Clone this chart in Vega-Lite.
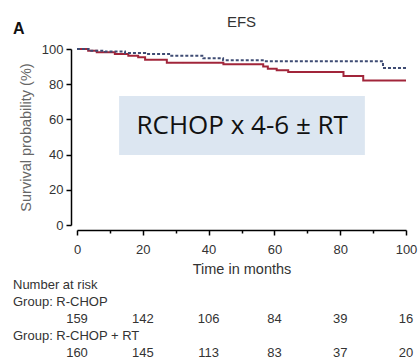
{
  "$schema": "https://vega.github.io/schema/vega-lite/v6.json",
  "background": "white",
  "autosize": {"type": "pad"},
  "padding": {"left": 13, "top": 15, "right": 5, "bottom": 0},
  "config": {"view": {"stroke": null}, "font": "Liberation Sans"},
  "title": {"text": "A", "anchor": "start", "frame": "bounds", "fontSize": 16, "fontWeight": "bold", "color": "#111", "dy": 22, "offset": 0},
  "spacing": 0,
  "vconcat": [
    {
      "width": 329,
      "height": 176,
      "title": {"text": "EFS", "fontSize": 15, "fontWeight": "normal", "color": "#333", "offset": 13},
      "encoding": {
        "x": {
          "field": "t", "type": "quantitative",
          "scale": {"domain": [0, 100], "nice": false},
          "axis": {
            "values": [0, 10, 20, 30, 40, 50, 60, 70, 80, 90, 100],
            "labelExpr": "datum.value % 20 === 0 ? datum.label : ''",
            "tickSize": {"condition": {"test": "datum.value % 20 !== 0", "value": 3}, "value": 5},
            "offset": 5, "domainColor": "#000", "domainWidth": 1.5, "tickColor": "#000", "tickWidth": 1.5,
            "grid": false, "labelFontSize": 13, "labelColor": "#333", "labelPadding": 8, "labelFlush": false,
            "title": "Time in months", "titleFontSize": 14.5, "titleFontWeight": "normal", "titleColor": "#333", "titlePadding": 6
          }
        },
        "y": {
          "field": "s", "type": "quantitative",
          "scale": {"domain": [0, 100], "nice": false},
          "axis": {
            "values": [0, 20, 40, 60, 80, 100],
            "offset": 6, "tickSize": 5, "domainColor": "#000", "domainWidth": 1.5, "tickColor": "#000", "tickWidth": 1.5,
            "grid": false, "labelFontSize": 13, "labelColor": "#333", "labelPadding": 3,
            "title": "Survival probability (%)", "titleFontSize": 14.5, "titleFontWeight": "normal", "titleColor": "#666", "titlePadding": 8
          }
        }
      },
      "layer": [
        {
          "data": {"values": [{"t": 12.8, "t2": 87.5, "s": 39.8, "s2": 73.3}]},
          "mark": {"type": "rect", "fill": "#dce6f1"},
          "encoding": {"x2": {"field": "t2"}, "y2": {"field": "s2"}}
        },
        {
          "data": {"values": [{"t": 50.2, "s": 56.5, "label": "RCHOP x 4-6 ± RT"}]},
          "mark": {"type": "text", "font": "Open Sans", "fontSize": 26, "color": "#111", "baseline": "middle", "align": "center"},
          "encoding": {"text": {"field": "label"}}
        },
        {
          "data": {"values": [
            {"group": "R-CHOP", "t": 0, "s": 100},
            {"group": "R-CHOP", "t": 3.4, "s": 99},
            {"group": "R-CHOP", "t": 6, "s": 98.1},
            {"group": "R-CHOP", "t": 11.5, "s": 97.2},
            {"group": "R-CHOP", "t": 15.6, "s": 96.2},
            {"group": "R-CHOP", "t": 18.6, "s": 95.3},
            {"group": "R-CHOP", "t": 20.7, "s": 93.9},
            {"group": "R-CHOP", "t": 27.3, "s": 92.2},
            {"group": "R-CHOP", "t": 44.5, "s": 91.3},
            {"group": "R-CHOP", "t": 56.6, "s": 90},
            {"group": "R-CHOP", "t": 58, "s": 88.8},
            {"group": "R-CHOP", "t": 60.7, "s": 87.9},
            {"group": "R-CHOP", "t": 64.2, "s": 87},
            {"group": "R-CHOP", "t": 81, "s": 84.6},
            {"group": "R-CHOP", "t": 87, "s": 82.1},
            {"group": "R-CHOP", "t": 100, "s": 82.1},
            {"group": "R-CHOP + RT", "t": 0, "s": 100},
            {"group": "R-CHOP + RT", "t": 3.5, "s": 99},
            {"group": "R-CHOP + RT", "t": 8.5, "s": 98.6},
            {"group": "R-CHOP + RT", "t": 14.6, "s": 97.7},
            {"group": "R-CHOP + RT", "t": 20.7, "s": 97.2},
            {"group": "R-CHOP + RT", "t": 28.3, "s": 96.2},
            {"group": "R-CHOP + RT", "t": 38.4, "s": 94.7},
            {"group": "R-CHOP + RT", "t": 44.4, "s": 93.6},
            {"group": "R-CHOP + RT", "t": 57, "s": 93.1},
            {"group": "R-CHOP + RT", "t": 93, "s": 89.2},
            {"group": "R-CHOP + RT", "t": 100, "s": 89.2}
          ]},
          "mark": {"type": "line", "interpolate": "step-after", "strokeWidth": 2},
          "encoding": {
            "color": {"field": "group", "type": "nominal", "scale": {"domain": ["R-CHOP", "R-CHOP + RT"], "range": ["#a1253a", "#3e4b73"]}, "legend": null},
            "strokeDash": {"field": "group", "type": "nominal", "scale": {"domain": ["R-CHOP", "R-CHOP + RT"], "range": [[1, 0], [3, 2]]}, "legend": null}
          }
        }
      ]
    },
    {
      "width": 329,
      "height": 85,
      "encoding": {
        "y": {"field": "row", "type": "ordinal", "scale": {"type": "point", "domain": ["r1", "r2", "r3", "r4", "r5"], "padding": 0.5}, "axis": null}
      },
      "layer": [
        {
          "data": {"values": [
            {"row": "r1", "label": "Number at risk"},
            {"row": "r2", "label": "Group: R-CHOP"},
            {"row": "r4", "label": "Group: R-CHOP + RT"}
          ]},
          "mark": {"type": "text", "align": "left", "baseline": "middle", "dx": -64, "fontSize": 13, "color": "#333"},
          "encoding": {
            "x": {"datum": 0, "type": "quantitative", "scale": {"domain": [0, 100], "nice": false}, "axis": null},
            "text": {"field": "label"}
          }
        },
        {
          "data": {"values": [
            {"row": "r3", "t": 0, "n": 159},
            {"row": "r3", "t": 20, "n": 142},
            {"row": "r3", "t": 40, "n": 106},
            {"row": "r3", "t": 60, "n": 84},
            {"row": "r3", "t": 80, "n": 39},
            {"row": "r3", "t": 100, "n": 16},
            {"row": "r5", "t": 0, "n": 160},
            {"row": "r5", "t": 20, "n": 145},
            {"row": "r5", "t": 40, "n": 113},
            {"row": "r5", "t": 60, "n": 83},
            {"row": "r5", "t": 80, "n": 37},
            {"row": "r5", "t": 100, "n": 20}
          ]},
          "mark": {"type": "text", "align": "center", "baseline": "middle", "fontSize": 13, "color": "#333"},
          "encoding": {
            "x": {"field": "t", "type": "quantitative", "scale": {"domain": [0, 100], "nice": false}, "axis": null},
            "text": {"field": "n"}
          }
        }
      ]
    }
  ]
}
